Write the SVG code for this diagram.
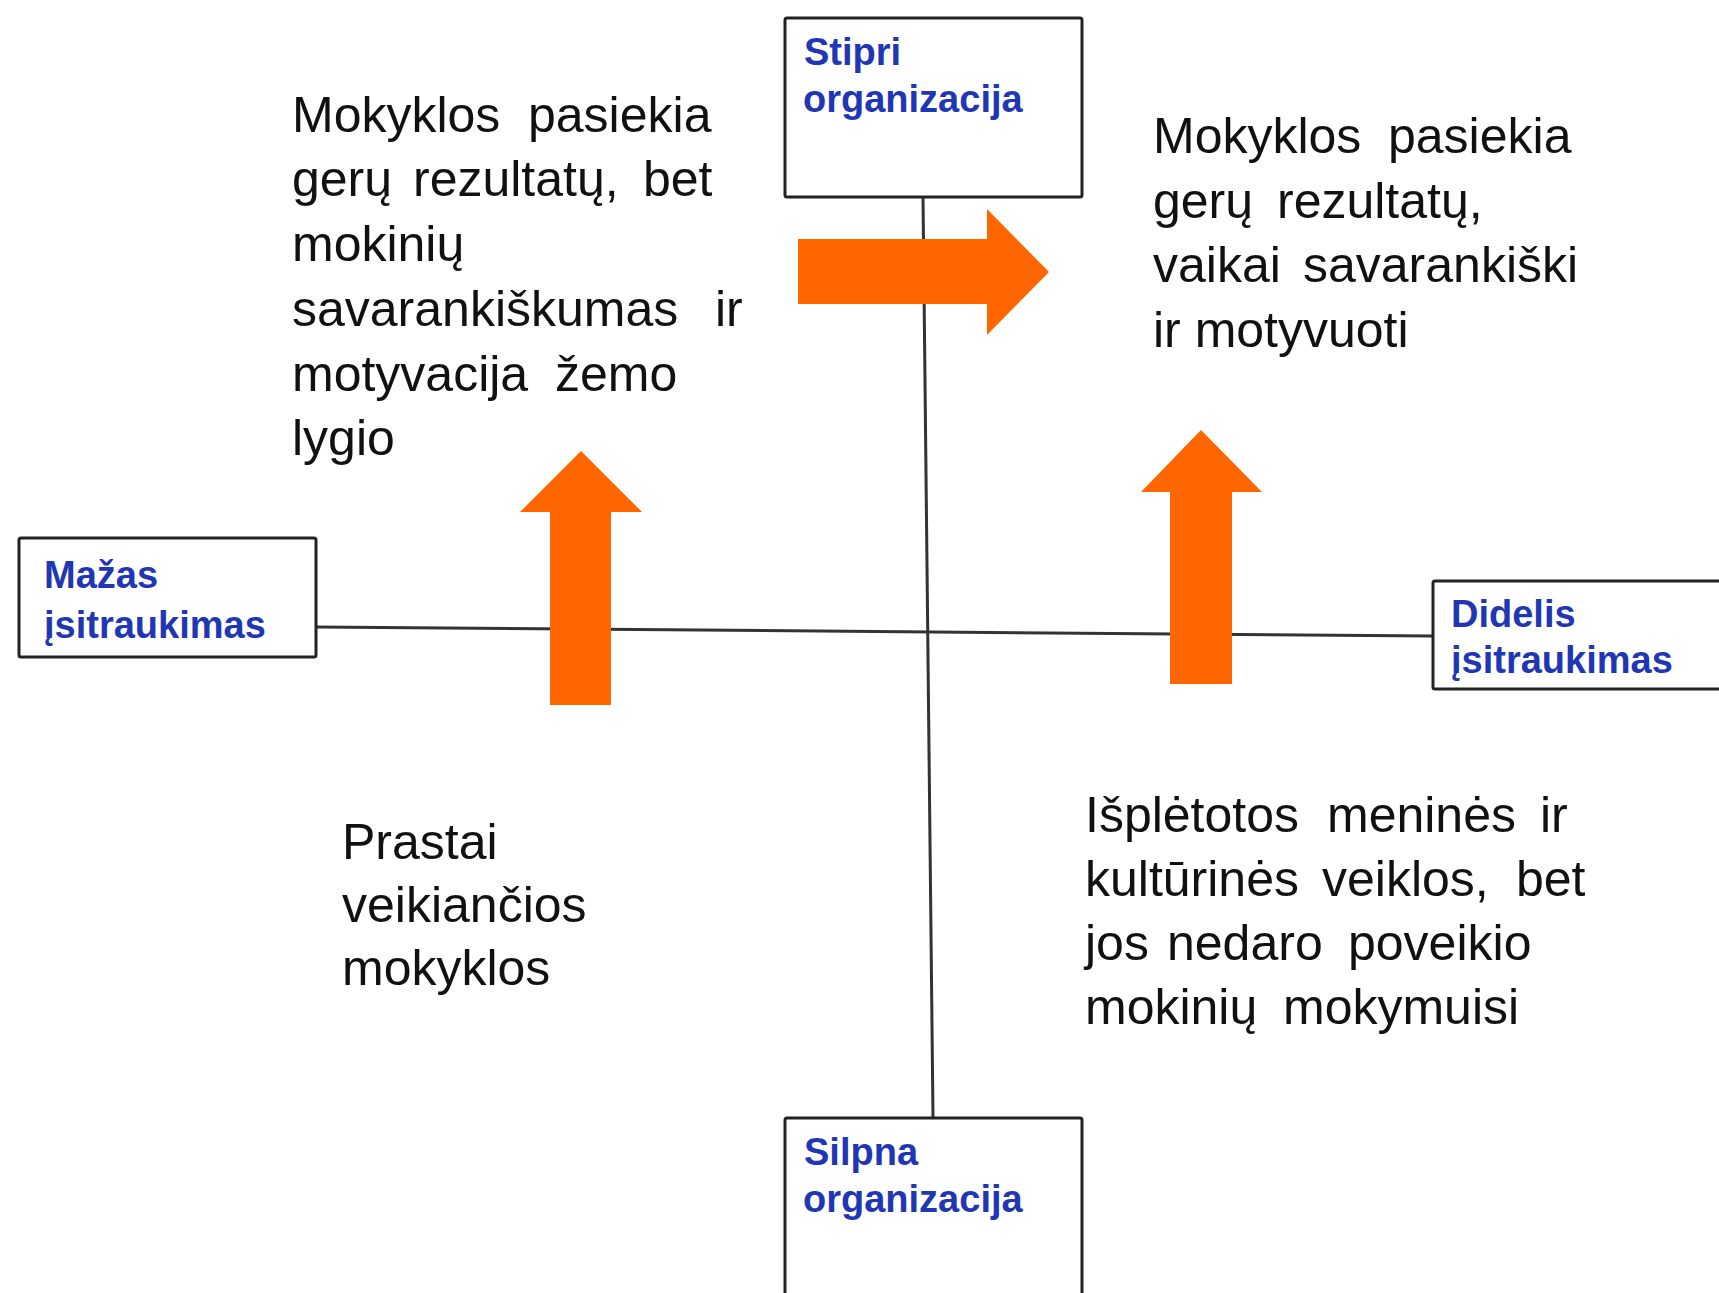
<svg xmlns="http://www.w3.org/2000/svg" width="1719" height="1293" viewBox="0 0 1719 1293">
  <style>
    .box { fill: #ffffff; stroke: #222222; stroke-width: 3; }
    .lbl { font-family: "Liberation Sans", Arial, sans-serif; font-weight: bold; font-size: 38px; fill: #1f37b4; }
    .body { font-family: "Liberation Sans", Arial, sans-serif; font-size: 50px; fill: #111111; }
    .axis { stroke: #333333; stroke-width: 3; fill: none; }
    .arrow { fill: #ff6600; }
  </style>
  <rect width="1719" height="1293" fill="#ffffff"/>

  <g id="connectors">
    <line class="axis" x1="923" y1="197" x2="933" y2="1118"/>
    <line class="axis" x1="316" y1="627" x2="1433" y2="636"/>
  </g>

  <g id="node-stipri">
    <rect class="box" x="785" y="18" width="297" height="179" rx="2"/>
    <text class="lbl" x="804" y="65">Stipri</text>
    <text class="lbl" x="803" y="112">organizacija</text>
  </g>
  <g id="node-silpna">
    <rect class="box" x="785" y="1118" width="297" height="200" rx="2"/>
    <text class="lbl" x="804" y="1165">Silpna</text>
    <text class="lbl" x="803" y="1212">organizacija</text>
  </g>
  <g id="node-mazas">
    <rect class="box" x="19" y="538" width="297" height="119" rx="2"/>
    <text class="lbl" x="44" y="588">Mažas</text>
    <text class="lbl" x="44" y="638">įsitraukimas</text>
  </g>
  <g id="node-didelis">
    <rect class="box" x="1433" y="581" width="300" height="108" rx="2"/>
    <text class="lbl" x="1451" y="627">Didelis</text>
    <text class="lbl" x="1451" y="673">įsitraukimas</text>
  </g>

  <g id="arrows">
    <polygon id="arrow-right" class="arrow" points="798,239 987,239 987,209 1049,272 987,335 987,304 798,304"/>
    <polygon id="arrow-up-left" class="arrow" points="550,705 550,512 520,512 581,451 642,512 611,512 611,705"/>
    <polygon id="arrow-up-right" class="arrow" points="1170,684 1170,492 1141,492 1201,430 1262,492 1232,492 1232,684"/>
  </g>

  <g id="text-top-left" class="body">
    <text x="292" y="132">Mokyklos</text>
    <text x="528" y="132">pasiekia</text>
    <text x="292" y="196">gerų</text>
    <text x="413" y="196">rezultatų,</text>
    <text x="643" y="196">bet</text>
    <text x="292" y="261">mokinių</text>
    <text x="292" y="326">savarankiškumas</text>
    <text x="715" y="326">ir</text>
    <text x="292" y="391">motyvacija</text>
    <text x="555" y="391">žemo</text>
    <text x="292" y="455">lygio</text>
  </g>

  <g id="text-top-right" class="body">
    <text x="1153" y="153">Mokyklos</text>
    <text x="1388" y="153">pasiekia</text>
    <text x="1153" y="218">gerų</text>
    <text x="1277" y="218">rezultatų,</text>
    <text x="1153" y="282">vaikai</text>
    <text x="1303" y="282">savarankiški</text>
    <text x="1153" y="347">ir motyvuoti</text>
  </g>

  <g id="text-bottom-left" class="body">
    <text x="342" y="859">Prastai</text>
    <text x="342" y="922">veikiančios</text>
    <text x="342" y="985">mokyklos</text>
  </g>

  <g id="text-bottom-right" class="body">
    <text x="1085" y="832">Išplėtotos</text>
    <text x="1327" y="832">meninės</text>
    <text x="1540" y="832">ir</text>
    <text x="1085" y="896">kultūrinės</text>
    <text x="1322" y="896">veiklos,</text>
    <text x="1516" y="896">bet</text>
    <text x="1085" y="960">jos</text>
    <text x="1167" y="960">nedaro</text>
    <text x="1348" y="960">poveikio</text>
    <text x="1085" y="1024">mokinių</text>
    <text x="1283" y="1024">mokymuisi</text>
  </g>
</svg>
